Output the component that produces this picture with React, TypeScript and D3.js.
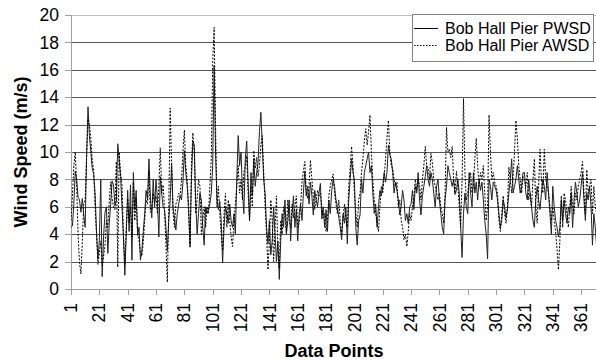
import React, { useEffect, useRef } from 'react';
import * as d3 from 'd3';

// Bob Hall Pier wind speed, one value per data point
const pwsd = [
  4.5, 4.6, 6.2, 8.6, 8.0, 6.7, 6.5, 5.6, 6.6, 5.4, 4.5, 9.5, 13.3, 11.2, 10.0, 8.8, 8.4, 7.0, 4.2, 2.2,
  3.5, 8.0, 0.9, 3.8, 5.6, 6.0, 2.6, 4.8, 6.2, 7.9, 7.6, 6.1, 6.4, 10.6, 9.4, 8.2, 6.0, 3.8, 1.0, 4.0,
  7.2, 4.2, 7.6, 2.1, 8.5, 5.8, 7.2, 3.9, 4.5, 2.1, 2.8, 4.2, 5.5, 7.2, 6.5, 9.5, 6.8, 5.2, 8.0, 6.0,
  8.0, 6.6, 3.8, 8.2, 7.0, 6.0, 5.8, 4.5, 2.8, 5.0, 6.5, 9.2, 6.0, 5.2, 4.3, 5.5, 6.2, 6.8, 6.5, 7.8,
  10.1, 8.5, 7.5, 6.0, 3.2, 8.0, 10.8, 10.5, 6.5, 4.0, 5.5, 7.0, 6.5, 4.5, 3.2, 6.0, 5.5, 5.8, 6.2, 7.0,
  9.0, 16.3, 10.0, 6.5, 5.8, 6.4, 5.0, 1.9, 4.5, 6.0, 5.5, 4.8, 6.2, 5.0, 4.5, 5.5, 4.0, 8.0, 11.2, 9.0,
  10.0, 7.0, 5.5, 9.5, 10.8, 7.8, 5.0, 8.5, 6.8, 9.5, 7.5, 8.5, 9.2, 11.5, 12.9, 10.5, 8.0, 7.0, 4.5, 3.3,
  5.0, 2.5, 3.5, 6.0, 4.0, 2.0, 3.5, 0.7, 3.5, 5.5, 4.5, 6.5, 4.0, 5.0, 6.5, 3.5, 5.5, 6.8, 4.5, 5.8,
  3.5, 5.5, 6.2, 5.0, 7.0, 8.6, 6.8, 7.5, 6.2, 7.8, 6.8, 5.4, 7.2, 6.5, 6.0, 7.0, 7.7, 5.1, 6.0, 4.5,
  5.8, 4.2, 6.5, 5.5, 7.2, 8.0, 7.5, 6.5, 6.0, 5.2, 4.5, 3.6, 5.5, 4.8, 6.0, 3.3, 6.5, 8.0, 9.5, 8.5,
  8.0, 4.5, 3.2, 5.0, 5.4, 8.0, 7.0, 8.5, 9.0, 9.5, 10.0, 8.5, 9.0, 7.0, 5.5, 6.2, 4.5, 6.0, 7.2, 6.8,
  7.5, 8.5, 7.8, 8.5, 10.5, 9.8, 9.5, 8.5, 7.0, 7.8, 7.2, 6.5, 5.4, 6.0, 7.2, 6.5, 5.0, 5.5, 4.8, 6.0,
  6.2, 7.2, 5.8, 7.5, 7.0, 8.5, 6.5, 5.4, 6.8, 7.5, 8.2, 9.0, 8.0, 7.5, 8.5, 8.0, 7.0, 6.0, 7.5, 8.0,
  6.5, 5.5, 4.5, 4.0, 6.5, 7.5, 9.0, 8.5, 8.0, 7.5, 8.0, 6.9, 7.2, 8.0, 7.0, 4.5, 2.3, 5.5, 7.0, 6.0,
  5.5, 8.5, 7.0, 6.0, 8.5, 7.0, 7.8, 6.5, 8.0, 7.2, 7.8, 6.5, 5.0, 4.0, 2.2, 8.0, 7.5, 6.5, 7.8, 7.5,
  7.2, 6.5, 5.5, 4.5, 5.0, 6.5, 6.0, 5.2, 5.8, 7.0, 8.0, 9.5, 7.0, 7.5, 8.0, 9.0, 8.0, 7.0, 7.5, 8.5,
  8.5, 7.0, 6.5, 8.0, 7.0, 6.0, 5.0, 4.5, 6.5, 7.5, 6.5, 5.8, 7.0, 8.0, 7.5, 6.5, 8.5, 7.0, 5.5, 4.0,
  7.5, 6.0, 5.0, 4.5, 3.8, 4.5, 6.5, 5.0, 6.5, 5.5, 4.8, 6.0, 5.5, 7.0, 4.5, 6.5, 7.8, 7.0, 6.0, 6.5,
  7.5, 8.5, 6.5, 5.0, 7.0, 6.5, 7.5, 6.0, 3.2, 5.5, 4.5, 3.0,
];

const awsd = [
  5.0, 6.8, 9.0, 10.0, 7.5, 4.0, 1.9, 1.1, 3.5, 6.2, 6.5, 9.8, 12.4, 12.0, 11.0, 9.4, 8.6, 6.0, 4.0, 1.8,
  2.6, 3.5, 1.7, 2.4, 3.2, 5.0, 4.5, 6.4, 7.8, 6.6, 6.0, 5.8, 9.3, 1.6, 10.0, 8.4, 7.6, 4.0, 1.8, 4.5,
  6.6, 4.8, 6.0, 3.8, 7.8, 5.0, 6.6, 4.2, 3.6, 2.6, 2.4, 3.4, 5.0, 6.5, 6.2, 8.6, 5.6, 5.8, 7.0, 6.3,
  6.8, 5.5, 7.5, 10.3, 7.0, 7.6, 5.8, 3.2, 0.5, 6.0, 13.2, 9.0, 5.6, 4.5, 6.2, 6.5, 7.0, 6.8, 8.0, 10.0,
  11.6, 9.0, 8.0, 5.5, 3.0, 9.0, 11.4, 10.0, 5.5, 6.5, 8.0, 7.5, 4.0, 5.0, 6.0, 4.5, 6.0, 5.5, 7.5, 9.5,
  16.5, 19.1, 12.0, 6.0, 7.5, 5.5, 4.0, 2.8, 5.5, 7.0, 4.5, 6.5, 5.0, 3.8, 3.1, 5.0, 6.2, 7.5, 9.0, 7.0,
  8.0, 6.5, 8.5, 9.0, 9.7, 7.0, 5.0, 7.5, 6.0, 10.1, 8.8, 9.6, 8.2, 9.0, 10.5, 11.2, 8.5, 6.0, 4.0, 1.4,
  3.5, 6.5, 5.0, 2.0, 4.5, 6.8, 3.0, 1.5, 5.0, 4.0, 6.0, 5.5, 4.2, 6.5, 5.0, 4.5, 6.2, 5.2, 6.0, 6.8,
  4.5, 4.8, 6.0, 7.8, 8.6, 9.3, 7.2, 6.6, 7.5, 9.4, 8.0, 6.8, 5.8, 6.5, 7.2, 6.8, 7.0, 6.0, 5.2, 5.5,
  4.2, 5.0, 6.8, 7.5, 8.0, 8.4, 7.0, 6.2, 5.5, 6.5, 5.0, 4.0, 5.2, 6.2, 5.0, 4.5, 7.5, 8.8, 10.4, 9.0,
  7.0, 5.5, 4.5, 6.5, 7.0, 8.5, 9.5, 10.8, 11.7, 10.5, 11.5, 12.7, 10.0, 8.0, 6.5, 5.5, 4.8, 4.2, 6.0, 7.5,
  7.0, 8.2, 9.5, 11.0, 12.3, 10.0, 9.0, 8.8, 8.0, 7.5, 7.8, 6.0, 6.5, 5.0, 4.5, 3.6, 4.0, 3.1, 4.2, 5.5,
  5.0, 6.0, 6.8, 8.0, 7.2, 8.0, 7.5, 6.5, 8.0, 9.0, 10.4, 9.0, 8.8, 8.0, 9.9, 9.2, 8.0, 7.5, 7.0, 6.5,
  7.0, 6.0, 5.5, 4.8, 7.0, 11.8, 10.0, 10.2, 9.6, 10.4, 8.0, 7.0, 8.6, 7.5, 6.0, 4.5, 8.0, 13.9, 8.5, 6.5,
  7.0, 8.0, 8.5, 7.0, 7.5, 9.5, 11.0, 9.0, 7.5, 8.5, 8.0, 9.0, 7.0, 5.0, 6.0, 12.7, 10.0, 8.0, 8.5, 7.8,
  7.5, 7.0, 5.0, 4.2, 5.5, 6.8, 5.5, 4.8, 6.0, 8.9, 8.0, 7.0, 8.2, 10.0, 12.3, 11.0, 9.0, 8.0, 7.0, 8.2,
  8.0, 7.5, 8.5, 6.5, 7.0, 6.0, 8.0, 9.5, 6.0, 4.8, 7.5, 10.2, 8.0, 7.0, 10.2, 8.0, 7.5, 7.0, 6.0, 5.0,
  6.0, 5.0, 4.2, 2.9, 1.4, 3.5, 6.8, 4.5, 7.0, 6.5, 5.5, 4.5, 6.0, 7.5, 6.0, 5.5, 7.0, 6.5, 7.5, 8.0,
  8.5, 9.3, 7.0, 5.5, 8.7, 7.0, 7.5, 8.0, 5.5, 7.5, 6.0, 5.5,
];

const yTicks = [0, 2, 4, 6, 8, 10, 12, 14, 16, 18, 20];
const xTicks = d3.range(1, 362, 20); // 1, 21, ... 361
const seriesNames = ['Bob Hall Pier PWSD', 'Bob Hall Pier AWSD'];

const App = () => {
  const svgRef = useRef(null);

  useEffect(() => {
    const boxWidth = 596;
    const boxHeight = 360;
    const font = 'Arial, "Liberation Sans", sans-serif';

    const svg = d3.select(svgRef.current)
      .attr('width', boxWidth)
      .attr('height', boxHeight);
    svg.selectAll('*').remove();

    const x = d3.scaleLinear()
      .domain([1, pwsd.length])
      .range([71, 71 + (pwsd.length - 1) * 1.417]);

    const y = d3.scaleLinear()
      .domain([0, 20])
      .range([289, 15]);

    svg.append('rect')
      .attr('width', boxWidth)
      .attr('height', boxHeight)
      .attr('fill', '#fff');

    svg.append('clipPath')
      .attr('id', 'plot-clip')
      .append('rect')
      .attr('x', 71)
      .attr('y', 0)
      .attr('width', boxWidth - 71)
      .attr('height', 290);

    // horizontal gridlines
    svg.append('g')
      .selectAll('line')
      .data(yTicks.filter(d => d > 0))
      .join('line')
      .attr('x1', 71)
      .attr('x2', boxWidth)
      .attr('y1', d => Math.round(y(d)) + 0.5)
      .attr('y2', d => Math.round(y(d)) + 0.5)
      .attr('stroke', d => (d === 20 ? '#c0c0c0' : '#555'))
      .attr('stroke-width', 1);

    // y axis
    const yAxis = svg.append('g');
    yAxis.append('line')
      .attr('x1', 71.5).attr('x2', 71.5)
      .attr('y1', y(20)).attr('y2', y(0))
      .attr('stroke', '#a0a0a0');
    yAxis.selectAll('.tick')
      .data(yTicks)
      .join('line')
      .attr('x1', 65).attr('x2', 71)
      .attr('y1', d => Math.round(y(d)) + 0.5)
      .attr('y2', d => Math.round(y(d)) + 0.5)
      .attr('stroke', '#a0a0a0');
    yAxis.selectAll('text')
      .data(yTicks)
      .join('text')
      .attr('x', 59)
      .attr('y', d => y(d))
      .attr('dy', '0.35em')
      .attr('text-anchor', 'end')
      .attr('font-family', font)
      .attr('font-size', 17.5)
      .attr('fill', '#000')
      .text(d => d);

    // x axis
    const xAxis = svg.append('g');
    xAxis.append('line')
      .attr('x1', 71).attr('x2', boxWidth)
      .attr('y1', 289.5).attr('y2', 289.5)
      .attr('stroke', '#a0a0a0');
    xAxis.selectAll('.tick')
      .data(xTicks)
      .join('line')
      .attr('x1', d => Math.round(x(d)) + 0.5)
      .attr('x2', d => Math.round(x(d)) + 0.5)
      .attr('y1', 289).attr('y2', 295)
      .attr('stroke', '#a0a0a0');
    xAxis.selectAll('text')
      .data(xTicks)
      .join('text')
      .attr('transform', d => `translate(${x(d)},${303}) rotate(-90)`)
      .attr('dy', '0.35em')
      .attr('text-anchor', 'end')
      .attr('font-family', font)
      .attr('font-size', 17.5)
      .attr('fill', '#000')
      .text(d => d);

    // axis titles
    svg.append('text')
      .attr('transform', 'translate(27,152) rotate(-90)')
      .attr('text-anchor', 'middle')
      .attr('font-family', font)
      .attr('font-size', 18)
      .attr('font-weight', 'bold')
      .text('Wind Speed (m/s)');

    svg.append('text')
      .attr('x', 334)
      .attr('y', 357)
      .attr('text-anchor', 'middle')
      .attr('font-family', font)
      .attr('font-size', 18)
      .attr('font-weight', 'bold')
      .text('Data Points');

    const line = d3.line()
      .x((d, i) => x(i + 1))
      .y(d => y(d));

    const plot = svg.append('g').attr('clip-path', 'url(#plot-clip)');

    plot.append('path')
      .datum(pwsd)
      .attr('d', line)
      .attr('fill', 'none')
      .attr('stroke', '#222')
      .attr('stroke-width', 1);

    plot.append('path')
      .datum(awsd)
      .attr('d', line)
      .attr('fill', 'none')
      .attr('stroke', '#000')
      .attr('stroke-width', 1)
      .attr('stroke-dasharray', '2,1.5');

    // legend
    const legend = svg.append('g');
    legend.append('rect')
      .attr('x', 412.5).attr('y', 14.5)
      .attr('width', 181).attr('height', 47)
      .attr('fill', '#fff')
      .attr('stroke', '#808080');

    seriesNames.forEach((name, i) => {
      const ly = 28.5 + i * 17;
      legend.append('line')
        .attr('x1', 414).attr('x2', 438)
        .attr('y1', ly).attr('y2', ly)
        .attr('stroke', '#000')
        .attr('stroke-dasharray', i === 1 ? '1.5,1.5' : null);
      legend.append('text')
        .attr('x', 445)
        .attr('y', ly)
        .attr('dy', '0.35em')
        .attr('font-family', font)
        .attr('font-size', 16)
        .attr('fill', '#000')
        .text(name);
    });
  }, []);

  return (
    <svg
      ref={svgRef}
      style={{ position: 'absolute', left: 0, top: 0, width: '596px', height: '360px' }}
    ></svg>
  );
};

export default App;
